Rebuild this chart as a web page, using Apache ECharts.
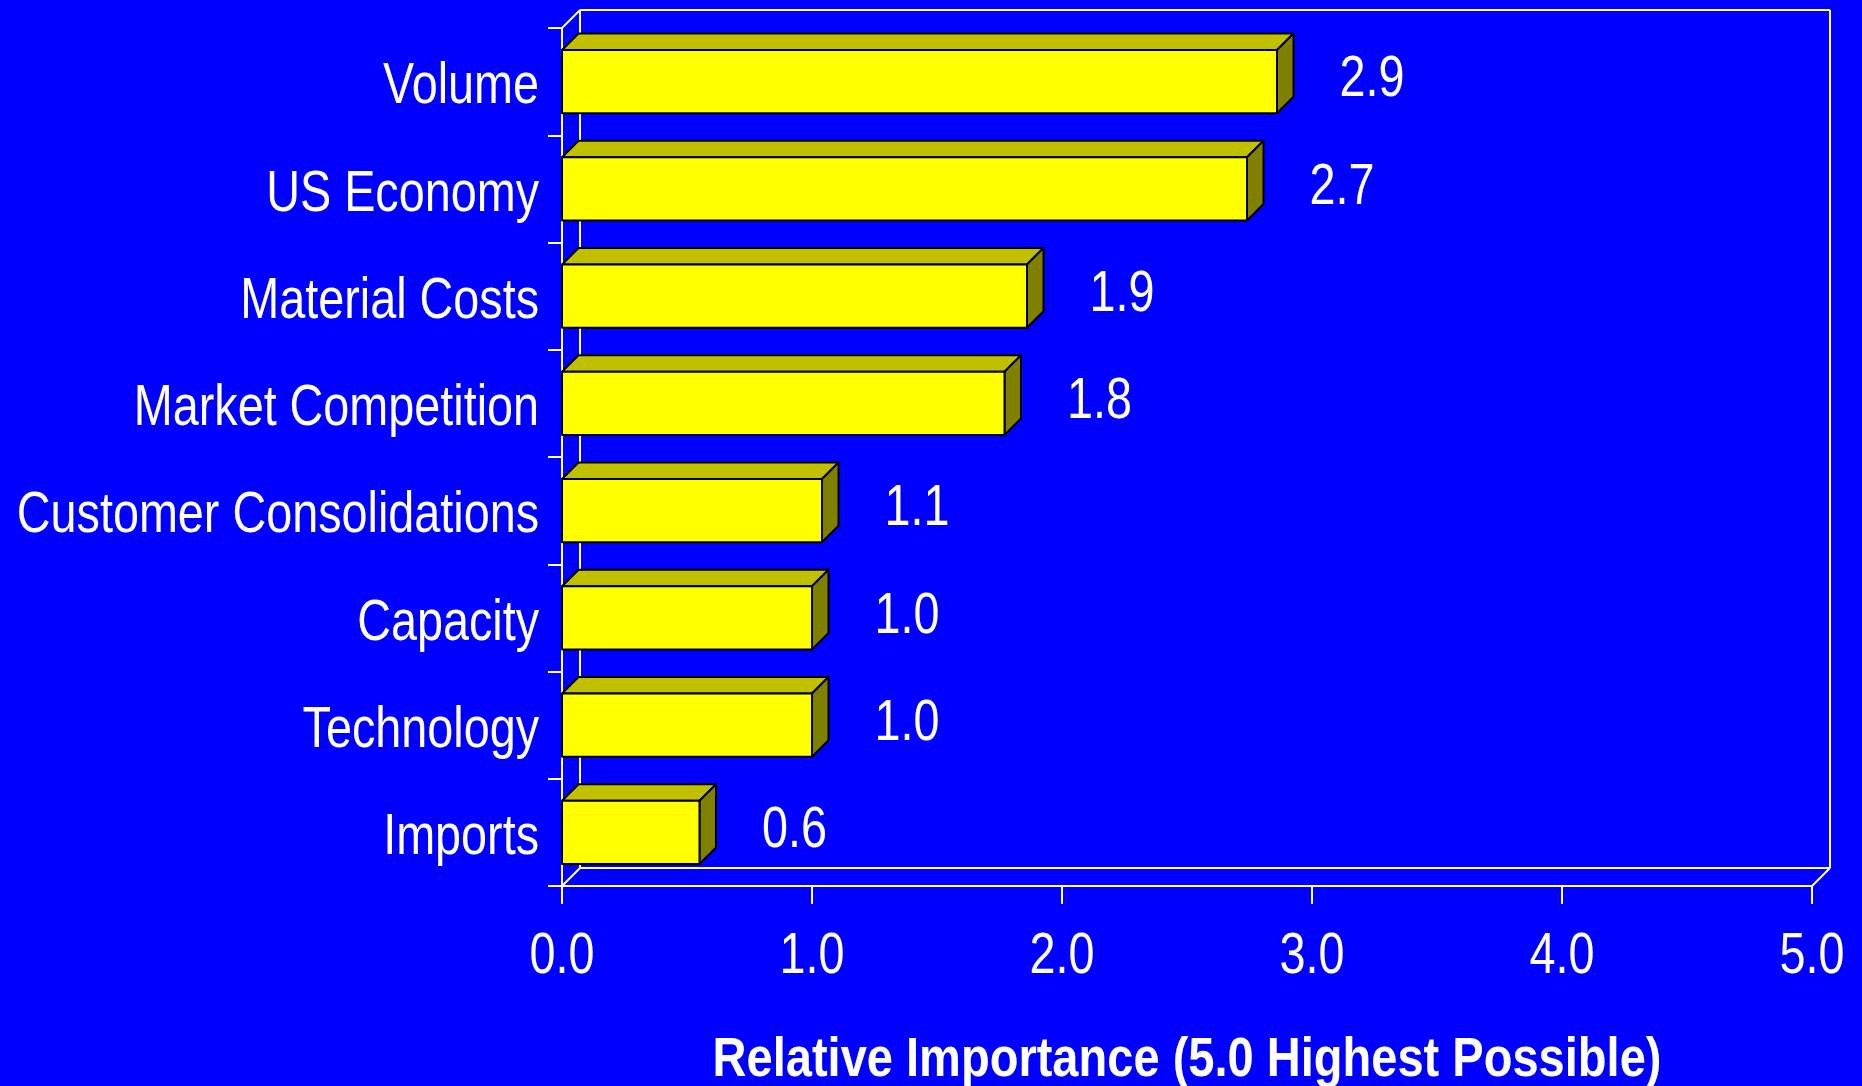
<!DOCTYPE html>
<html>
<head>
<meta charset="utf-8">
<script src="https://cdn.jsdelivr.net/npm/echarts@6/dist/echarts.min.js"></script>
<style>
html,body{margin:0;padding:0;background:#0000FF;}
#chart{width:1862px;height:1086px;}
</style>
</head>
<body>
<div id="chart"></div>
<script>
const categories = ['Volume', 'US Economy', 'Material Costs', 'Market Competition', 'Customer Consolidations', 'Capacity', 'Technology', 'Imports'];
const values = [2.86, 2.74, 1.86, 1.77, 1.04, 1.00, 1.00, 0.55];
const valueLabels = ['2.9', '2.7', '1.9', '1.8', '1.1', '1.0', '1.0', '0.6'];
const xTicks = [0, 1, 2, 3, 4, 5];
const xTickLabels = ['0.0', '1.0', '2.0', '3.0', '4.0', '5.0'];
const axisTitle = 'Relative Importance (5.0 Highest Possible)';

const FONT = '"Liberation Sans", Arial, sans-serif';
const NARROW = 0.82;      // horizontal squeeze to mimic a narrow face
const BAR_DEPTH = 16.5;
const FRAME_DEPTH = 18;

const chart = echarts.init(document.getElementById('chart'), null, {renderer: 'canvas'});

function txt(x, y, text, align, size, bold, sx) {
  return {
    type: 'text', x: x, y: y, scaleX: sx, scaleY: 1,
    style: {text: text, fill: '#FFFFFF', fontSize: size, fontFamily: FONT,
      fontWeight: bold ? 'bold' : 'normal', align: align, verticalAlign: 'middle'}
  };
}

function renderFrame(params, api) {
  const cs = params.coordSys;
  const d = FRAME_DEPTH;
  const x0 = cs.x, x1 = cs.x + cs.width, yt = cs.y, yb = cs.y + cs.height;
  const ls = {stroke: '#FFFFFF', lineWidth: 2, fill: null};
  const line = (a, b, c, e) => ({type: 'line', shape: {x1: a, y1: b, x2: c, y2: e}, style: ls});
  const children = [
    line(x0 + d, yt - d, x1 + d, yt - d),
    line(x1 + d, yt - d, x1 + d, yb - d),
    line(x0 + d, yb - d, x1 + d, yb - d),
    line(x0 + d, yt - d, x0 + d, yb - d),
    line(x0, yt, x0 + d, yt - d),
    line(x0, yb, x0 + d, yb - d),
    line(x1, yb, x1 + d, yb - d)
  ];
  categories.forEach((c, i) => {
    const p = api.coord([0, i]);
    children.push(txt(p[0] - 23, p[1] + 6, c, 'right', 57, false, NARROW));
  });
  xTicks.forEach((t, i) => {
    const p = api.coord([t, 0]);
    children.push(txt(p[0], yb + 71, xTickLabels[i], 'center', 57, false, NARROW));
  });
  children.push(txt((x0 + x1) / 2, yb + 175, axisTitle, 'center', 56, true, 0.84));
  return {type: 'group', children: children};
}

function renderBar(params, api) {
  const v = api.value(0);
  const idx = api.value(1);
  const p0 = api.coord([0, idx]);
  const p1 = api.coord([v, idx]);
  const band = api.size([0, 1])[1];
  const h = band * 0.59;
  const d = BAR_DEPTH;
  const x0 = p0[0], x1 = p1[0], yc = p0[1];
  const yt = yc - h / 2, yb = yc + h / 2;
  const edge = {stroke: '#000000', lineWidth: 2, lineJoin: 'round'};
  return {type: 'group', children: [
    {type: 'polygon', shape: {points: [[x0, yt], [x0 + d, yt - d], [x1 + d, yt - d], [x1, yt]]},
      style: Object.assign({fill: '#C0C000'}, edge)},
    {type: 'polygon', shape: {points: [[x1, yt], [x1 + d, yt - d], [x1 + d, yb - d], [x1, yb]]},
      style: Object.assign({fill: '#808000'}, edge)},
    {type: 'rect', shape: {x: x0, y: yt, width: x1 - x0, height: h},
      style: Object.assign({fill: '#FFFF00'}, edge)},
    txt(x1 + 95, yc - 1, valueLabels[idx], 'center', 57, false, NARROW)
  ]};
}

chart.setOption({
  backgroundColor: '#0000FF',
  animation: false,
  grid: {left: 562, top: 28, right: 50, bottom: 200, containLabel: false, outerBoundsMode: 'none'},
  xAxis: {
    type: 'value', min: 0, max: 5, interval: 1,
    axisLine: {show: true, lineStyle: {color: '#FFFFFF', width: 2}},
    axisTick: {show: true, length: 18, lineStyle: {color: '#FFFFFF', width: 2}},
    splitLine: {show: false},
    axisLabel: {show: false}
  },
  yAxis: {
    type: 'category', data: categories, inverse: true,
    axisLine: {show: true, lineStyle: {color: '#FFFFFF', width: 2}},
    axisTick: {show: true, length: 14, lineStyle: {color: '#FFFFFF', width: 2}},
    splitLine: {show: false},
    axisLabel: {show: false}
  },
  series: [
    {type: 'custom', name: 'frame', renderItem: renderFrame, data: [[0, 0]], z: 1, silent: true, clip: false},
    {type: 'custom', name: 'bars', renderItem: renderBar, encode: {x: 0, y: 1},
      data: values.map((v, i) => [v, i]), z: 3, clip: false}
  ]
});
</script>
</body>
</html>
